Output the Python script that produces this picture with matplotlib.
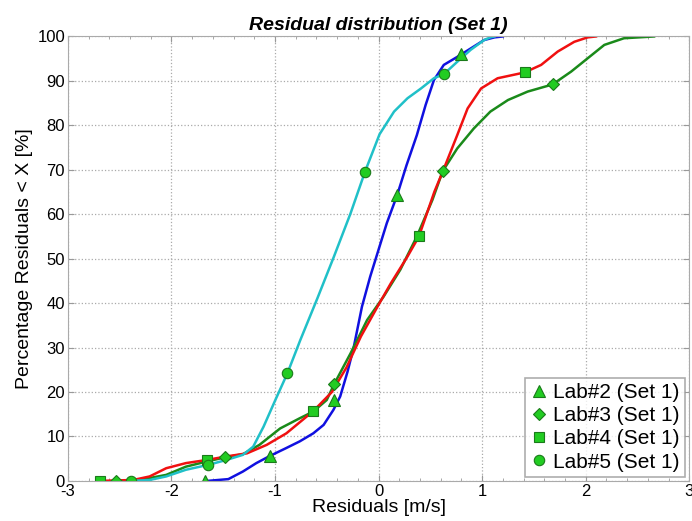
import matplotlib
matplotlib.use("Agg")
import matplotlib.pyplot as plt
from matplotlib.ticker import MultipleLocator

plt.rcParams['font.family'] = ['Liberation Sans', 'DejaVu Sans']
plt.rcParams['axes.unicode_minus'] = False

# curves (residual [m/s], percentage)
lab2_x = [-1.65, -1.45, -1.31, -1.18, -1.05, -0.89, -0.76, -0.63, -0.53, -0.435, -0.37, -0.30,
          -0.24, -0.16, -0.08, 0.0, 0.08, 0.18, 0.27, 0.37, 0.455, 0.535, 0.63, 0.76, 0.89, 1.02, 1.12, 1.2]
lab2_y = [0.0, 0.4, 2.1, 4.0, 5.6, 7.4, 8.9, 10.7, 12.6, 16.0, 19.0, 24.5,
          30.0, 39.2, 46.0, 52.0, 58.0, 64.3, 71.0, 77.8, 84.6, 90.2, 93.6, 95.4, 97.3, 99.2, 99.8, 100.0]

lab3_x = [-2.53, -2.31, -2.05, -1.86, -1.66, -1.48, -1.31, -1.15, -0.95, -0.76, -0.63, -0.5, -0.43,
          -0.27, -0.11, 0.05, 0.21, 0.37, 0.52, 0.62, 0.76, 0.92, 1.08, 1.25, 1.44, 1.68, 1.86, 2.02,
          2.18, 2.37, 2.66]
lab3_y = [0.0, 0.2, 1.35, 3.2, 4.35, 5.3, 6.0, 8.1, 11.8, 14.1, 15.6, 18.2, 21.7,
          28.7, 36.2, 41.5, 47.5, 55.0, 63.2, 69.7, 74.8, 79.3, 83.1, 85.7, 87.6, 89.2, 92.1, 95.1,
          98.1, 99.6, 100.0]

lab4_x = [-2.69, -2.37, -2.21, -2.05, -1.86, -1.66, -1.47, -1.27, -1.08, -0.89, -0.63, -0.45,
          -0.31, -0.17, -0.01, 0.12, 0.28, 0.39, 0.54, 0.62, 0.76, 0.86, 0.99, 1.15, 1.41, 1.57,
          1.73, 1.89, 2.02, 2.1]
lab4_y = [0.0, 0.2, 1.0, 2.85, 4.0, 4.7, 5.5, 6.2, 8.1, 10.7, 15.7, 20.0,
          25.5, 32.5, 39.2, 44.5, 50.5, 55.0, 65.1, 69.6, 77.8, 83.8, 88.3, 90.6, 91.9, 93.6,
          96.6, 98.8, 99.8, 100.0]

lab5_x = [-2.39, -2.21, -2.05, -1.86, -1.645, -1.47, -1.31, -1.21, -1.11, -1.0, -0.88, -0.755,
          -0.59, -0.43, -0.27, -0.13, 0.01, 0.15, 0.28, 0.41, 0.535, 0.63, 0.76, 0.89, 1.02, 1.08, 1.12]
lab5_y = [0.0, 0.2, 1.0, 2.5, 3.6, 4.7, 5.85, 7.7, 12.2, 18.0, 24.2, 31.7,
          41.1, 50.5, 60.2, 69.6, 78.0, 83.1, 86.1, 88.3, 90.6, 91.5, 94.3, 97.0, 99.2, 99.8, 100.0]

# marker positions
m2_x = [-1.675, -1.05, -0.426, 0.18, 0.80]
m2_y = [0.0, 5.6, 18.1, 64.3, 96.0]
m3_x = [-2.53, -1.48, -0.426, 0.62, 1.68]
m3_y = [0.0, 5.3, 21.7, 69.7, 89.2]
m4_x = [-2.69, -1.66, -0.63, 0.39, 1.41]
m4_y = [0.0, 4.7, 15.7, 55.0, 91.9]
m5_x = [-2.39, -1.645, -0.88, -0.13, 0.63]
m5_y = [0.0, 3.6, 24.2, 69.6, 91.5]

labels = ['Lab#2 (Set 1)', 'Lab#3 (Set 1)', 'Lab#4 (Set 1)', 'Lab#5 (Set 1)']

fig = plt.figure(figsize=(6.92, 5.21), dpi=100)
ax = fig.add_axes([0.098, 0.077, 0.898, 0.853])

ax.plot(lab2_x, lab2_y, color='#1010e0', lw=1.8)
ax.plot(lab3_x, lab3_y, color='#1a8a1a', lw=1.8)
ax.plot(lab4_x, lab4_y, color='#f01010', lw=1.8)
ax.plot(lab5_x, lab5_y, color='#20c0c8', lw=1.8)

mk = dict(ls='none', mfc='#22cc22', mec='#1a7a1a', mew=0.8)
ax.plot(m2_x, m2_y, marker='^', ms=8, label=labels[0], **mk)
ax.plot(m3_x, m3_y, marker='D', ms=6, label=labels[1], **mk)
ax.plot(m4_x, m4_y, marker='s', ms=6.5, label=labels[2], **mk)
ax.plot(m5_x, m5_y, marker='o', ms=7.5, label=labels[3], **mk)

ax.set_xlim(-3, 3)
ax.set_ylim(0, 100)
ax.xaxis.set_major_locator(MultipleLocator(1))
ax.xaxis.set_minor_locator(MultipleLocator(0.2))
ax.yaxis.set_major_locator(MultipleLocator(10))
ax.tick_params(which='both', direction='in', top=True, right=True, labelsize=12, color='#999999')
ax.tick_params(which='major', length=4, pad=2)
ax.tick_params(which='minor', length=2.5)
ax.grid(True, which='major', ls=':', color='#aaaaaa', lw=0.9)
for s in ax.spines.values():
    s.set_color('#aaaaaa')

ax.set_title('Residual distribution (Set 1)', fontsize=14, fontweight='bold', style='italic', pad=5)
ax.set_xlabel('Residuals [m/s]', fontsize=14, labelpad=0)
ax.set_ylabel('Percentage Residuals < X [%]', fontsize=14, labelpad=3)

leg = ax.legend(loc='lower right', fontsize=15, handlelength=0.8, handletextpad=0.3,
                borderpad=0.25, labelspacing=0.2, fancybox=False, borderaxespad=0.2)
leg.get_frame().set_edgecolor('#999999')
leg.get_frame().set_linewidth(1.2)

fig.savefig('out.png', dpi=100)
